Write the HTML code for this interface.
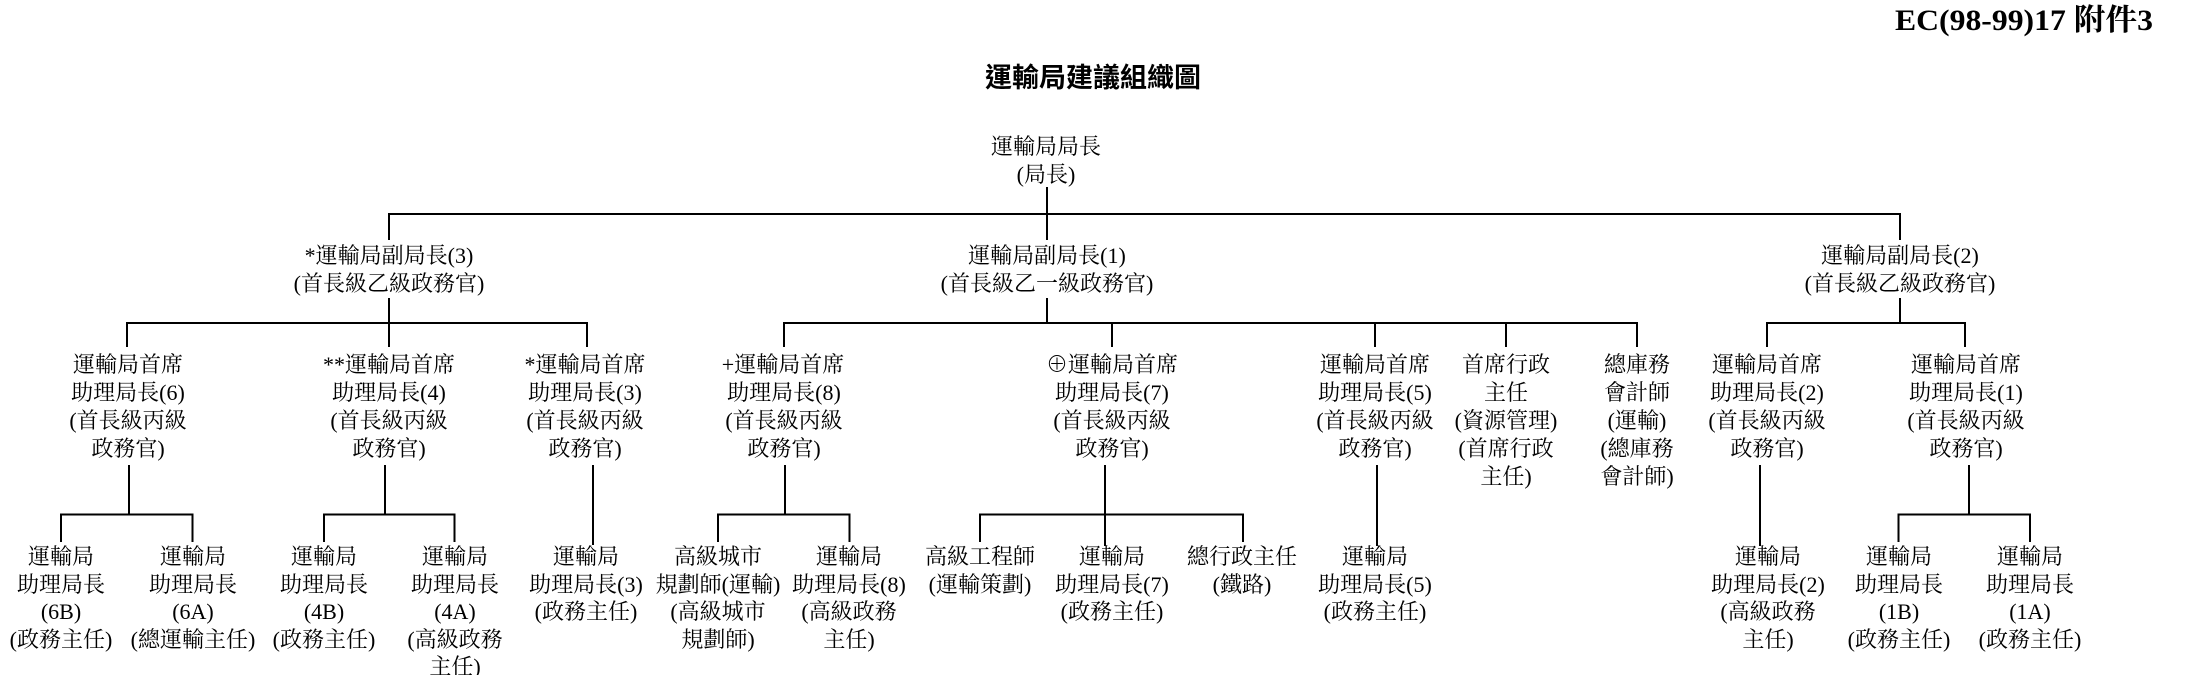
<!DOCTYPE html>
<html>
<head>
<meta charset="utf-8">
<style>
  html, body { margin: 0; padding: 0; background: #fff; }
  body { width: 2210px; height: 675px; overflow: hidden; }
  svg { display: block; }
  .t { font-family: "Liberation Serif", "Noto Serif CJK SC", serif; font-size: 22px; fill: #000; text-anchor: middle; }
  .title { font-family: "Liberation Sans", "Noto Sans CJK TC", sans-serif; font-size: 27px; font-weight: 700; fill: #000; text-anchor: middle; }
  .ec { font-family: "Liberation Serif", "Noto Serif CJK SC", serif; font-size: 30px; font-weight: 700; fill: #000; }
  line { stroke: #000; stroke-width: 2; }
</style>
</head>
<body>
<svg width="2210" height="675" viewBox="0 0 2210 675" xmlns="http://www.w3.org/2000/svg">
  <rect width="2210" height="675" fill="#fff"/>

  <!-- headers -->
  <text class="ec" x="1895" y="30" textLength="258" lengthAdjust="spacingAndGlyphs">EC(98-99)17 附件3</text>
  <text class="title" x="1093" y="87">運輸局建議組織圖</text>

  <!-- root -->
  <text class="t" x="1046" y="154">運輸局局長</text>
  <text class="t" x="1046" y="182">(局長)</text>

  <!-- connectors level 1 -->
  <line x1="1047" y1="187" x2="1047" y2="240"/>
  <line x1="388" y1="214" x2="1901" y2="214"/>
  <line x1="389" y1="213" x2="389" y2="240"/>
  <line x1="1900" y1="213" x2="1900" y2="240"/>

  <!-- level 2 -->
  <text class="t" x="389" y="263">*運輸局副局長(3)</text>
  <text class="t" x="389" y="291">(首長級乙級政務官)</text>
  <text class="t" x="1047" y="263">運輸局副局長(1)</text>
  <text class="t" x="1047" y="291">(首長級乙一級政務官)</text>
  <text class="t" x="1900" y="263">運輸局副局長(2)</text>
  <text class="t" x="1900" y="291">(首長級乙級政務官)</text>

  <line x1="389" y1="298" x2="389" y2="323"/>
  <line x1="1047" y1="298" x2="1047" y2="323"/>
  <line x1="1900" y1="298" x2="1900" y2="323"/>

  <line x1="126" y1="323" x2="588" y2="323"/>
  <line x1="783" y1="323" x2="1638" y2="323"/>
  <line x1="1766" y1="323" x2="1966" y2="323"/>

  <!-- level 3 up verticals -->
  <line x1="127" y1="322" x2="127" y2="347"/>
  <line x1="389" y1="322" x2="389" y2="347"/>
  <line x1="587" y1="322" x2="587" y2="347"/>
  <line x1="784" y1="322" x2="784" y2="347"/>
  <line x1="1112" y1="322" x2="1112" y2="347"/>
  <line x1="1375" y1="322" x2="1375" y2="347"/>
  <line x1="1506" y1="322" x2="1506" y2="347"/>
  <line x1="1637" y1="322" x2="1637" y2="347"/>
  <line x1="1767" y1="322" x2="1767" y2="347"/>
  <line x1="1965" y1="322" x2="1965" y2="347"/>

  <!-- level 3 texts -->
  <g class="t">
    <text class="t" x="128" y="372">運輸局首席</text>
    <text class="t" x="128" y="400">助理局長(6)</text>
    <text class="t" x="128" y="428">(首長級丙級</text>
    <text class="t" x="128" y="456">政務官)</text>

    <text class="t" x="389" y="372">**運輸局首席</text>
    <text class="t" x="389" y="400">助理局長(4)</text>
    <text class="t" x="389" y="428">(首長級丙級</text>
    <text class="t" x="389" y="456">政務官)</text>

    <text class="t" x="585" y="372">*運輸局首席</text>
    <text class="t" x="585" y="400">助理局長(3)</text>
    <text class="t" x="585" y="428">(首長級丙級</text>
    <text class="t" x="585" y="456">政務官)</text>

    <text class="t" x="783" y="372">+運輸局首席</text>
    <text class="t" x="784" y="400">助理局長(8)</text>
    <text class="t" x="784" y="428">(首長級丙級</text>
    <text class="t" x="784" y="456">政務官)</text>

    <text class="t" x="1112" y="372">⊕運輸局首席</text>
    <text class="t" x="1112" y="400">助理局長(7)</text>
    <text class="t" x="1112" y="428">(首長級丙級</text>
    <text class="t" x="1112" y="456">政務官)</text>

    <text class="t" x="1375" y="372">運輸局首席</text>
    <text class="t" x="1375" y="400">助理局長(5)</text>
    <text class="t" x="1375" y="428">(首長級丙級</text>
    <text class="t" x="1375" y="456">政務官)</text>

    <text class="t" x="1506" y="372">首席行政</text>
    <text class="t" x="1506" y="400">主任</text>
    <text class="t" x="1506" y="428">(資源管理)</text>
    <text class="t" x="1506" y="456">(首席行政</text>
    <text class="t" x="1506" y="484">主任)</text>

    <text class="t" x="1637" y="372">總庫務</text>
    <text class="t" x="1637" y="400">會計師</text>
    <text class="t" x="1637" y="428">(運輸)</text>
    <text class="t" x="1637" y="456">(總庫務</text>
    <text class="t" x="1637" y="484">會計師)</text>

    <text class="t" x="1767" y="372">運輸局首席</text>
    <text class="t" x="1767" y="400">助理局長(2)</text>
    <text class="t" x="1767" y="428">(首長級丙級</text>
    <text class="t" x="1767" y="456">政務官)</text>

    <text class="t" x="1966" y="372">運輸局首席</text>
    <text class="t" x="1966" y="400">助理局長(1)</text>
    <text class="t" x="1966" y="428">(首長級丙級</text>
    <text class="t" x="1966" y="456">政務官)</text>
  </g>

  <!-- level 3 down verticals -->
  <line x1="129" y1="465" x2="129" y2="515"/>
  <line x1="385" y1="465" x2="385" y2="515"/>
  <line x1="593" y1="465" x2="593" y2="545"/>
  <line x1="785" y1="465" x2="785" y2="515"/>
  <line x1="1105" y1="465" x2="1105" y2="546"/>
  <line x1="1377" y1="465" x2="1377" y2="546"/>
  <line x1="1760" y1="465" x2="1760" y2="546"/>
  <line x1="1969" y1="465" x2="1969" y2="515"/>

  <!-- level 4 buses -->
  <line x1="60" y1="514.5" x2="193.5" y2="514.5"/>
  <line x1="323" y1="514.5" x2="455.5" y2="514.5"/>
  <line x1="717" y1="514.5" x2="850.5" y2="514.5"/>
  <line x1="979" y1="514.5" x2="1244" y2="514.5"/>
  <line x1="1897.5" y1="514.5" x2="2031" y2="514.5"/>

  <!-- level 4 drops -->
  <line x1="61" y1="514" x2="61" y2="542"/>
  <line x1="192.5" y1="514" x2="192.5" y2="542"/>
  <line x1="324" y1="514" x2="324" y2="542"/>
  <line x1="454.5" y1="514" x2="454.5" y2="542"/>
  <line x1="718" y1="514" x2="718" y2="542"/>
  <line x1="849.5" y1="514" x2="849.5" y2="542"/>
  <line x1="980" y1="514" x2="980" y2="542"/>
  <line x1="1243" y1="514" x2="1243" y2="542"/>
  <line x1="1898.5" y1="514" x2="1898.5" y2="542"/>
  <line x1="2030" y1="514" x2="2030" y2="542"/>

  <!-- level 4 texts -->
  <text class="t" x="61" y="564">運輸局</text>
  <text class="t" x="61" y="592">助理局長</text>
  <text class="t" x="61" y="619">(6B)</text>
  <text class="t" x="61" y="647">(政務主任)</text>

  <text class="t" x="193" y="564">運輸局</text>
  <text class="t" x="193" y="592">助理局長</text>
  <text class="t" x="193" y="619">(6A)</text>
  <text class="t" x="193" y="647">(總運輸主任)</text>

  <text class="t" x="324" y="564">運輸局</text>
  <text class="t" x="324" y="592">助理局長</text>
  <text class="t" x="324" y="619">(4B)</text>
  <text class="t" x="324" y="647">(政務主任)</text>

  <text class="t" x="455" y="564">運輸局</text>
  <text class="t" x="455" y="592">助理局長</text>
  <text class="t" x="455" y="619">(4A)</text>
  <text class="t" x="455" y="647">(高級政務</text>
  <text class="t" x="455" y="674">主任)</text>

  <text class="t" x="586" y="564">運輸局</text>
  <text class="t" x="586" y="592">助理局長(3)</text>
  <text class="t" x="586" y="619">(政務主任)</text>

  <text class="t" x="718" y="564">高級城市</text>
  <text class="t" x="718" y="592">規劃師(運輸)</text>
  <text class="t" x="718" y="619">(高級城市</text>
  <text class="t" x="718" y="647">規劃師)</text>

  <text class="t" x="849" y="564">運輸局</text>
  <text class="t" x="849" y="592">助理局長(8)</text>
  <text class="t" x="849" y="619">(高級政務</text>
  <text class="t" x="849" y="647">主任)</text>

  <text class="t" x="980" y="564">高級工程師</text>
  <text class="t" x="980" y="592">(運輸策劃)</text>

  <text class="t" x="1112" y="564">運輸局</text>
  <text class="t" x="1112" y="592">助理局長(7)</text>
  <text class="t" x="1112" y="619">(政務主任)</text>

  <text class="t" x="1242" y="564">總行政主任</text>
  <text class="t" x="1242" y="592">(鐵路)</text>

  <text class="t" x="1375" y="564">運輸局</text>
  <text class="t" x="1375" y="592">助理局長(5)</text>
  <text class="t" x="1375" y="619">(政務主任)</text>

  <text class="t" x="1768" y="564">運輸局</text>
  <text class="t" x="1768" y="592">助理局長(2)</text>
  <text class="t" x="1768" y="619">(高級政務</text>
  <text class="t" x="1768" y="647">主任)</text>

  <text class="t" x="1899" y="564">運輸局</text>
  <text class="t" x="1899" y="592">助理局長</text>
  <text class="t" x="1899" y="619">(1B)</text>
  <text class="t" x="1899" y="647">(政務主任)</text>

  <text class="t" x="2030" y="564">運輸局</text>
  <text class="t" x="2030" y="592">助理局長</text>
  <text class="t" x="2030" y="619">(1A)</text>
  <text class="t" x="2030" y="647">(政務主任)</text>
</svg>
</body>
</html>
